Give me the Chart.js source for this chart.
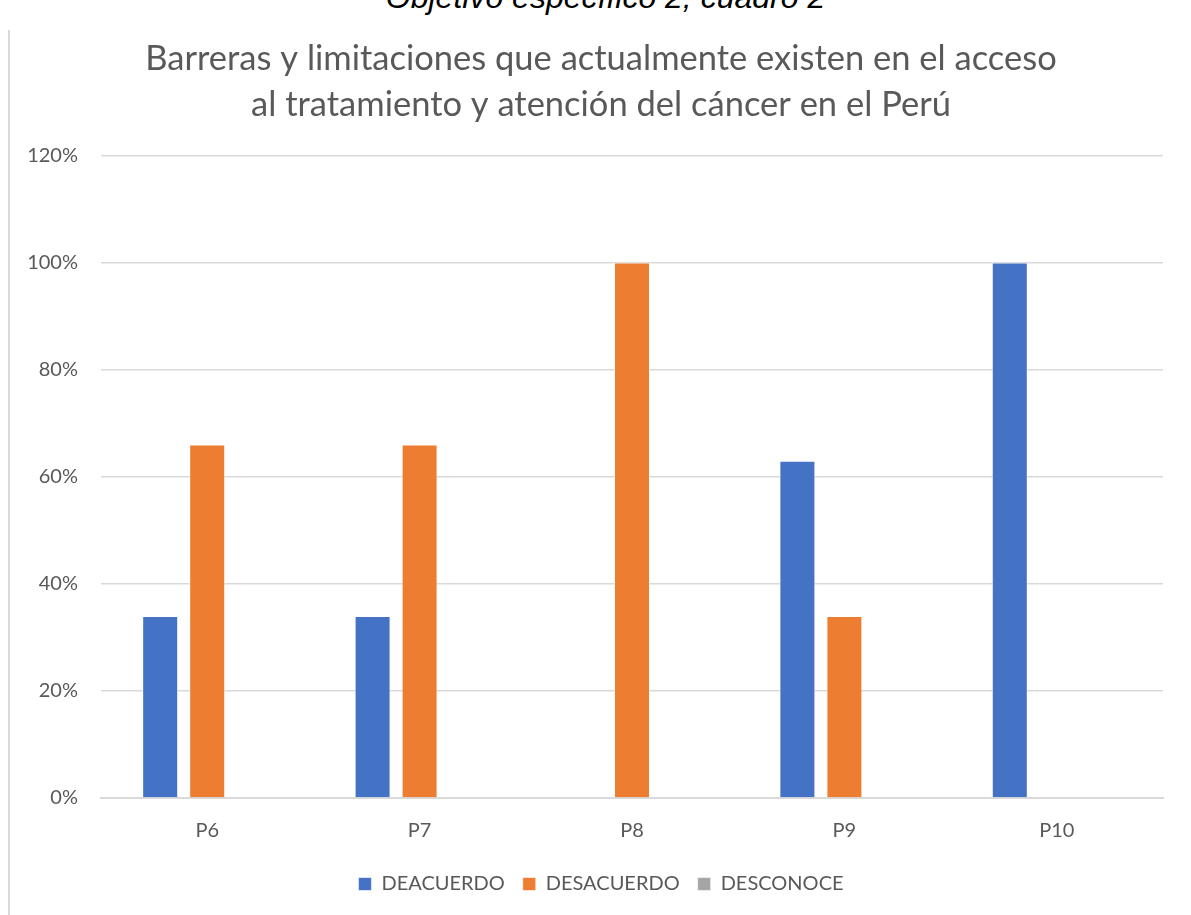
<!DOCTYPE html>
<html>
<head>
<meta charset="utf-8">
<script src="https://cdn.jsdelivr.net/npm/chart.js@4.4.1/dist/chart.umd.min.js"></script>
<style>
  html, body { margin: 0; padding: 0; background: #fff; overflow: hidden; }
  #wrap { position: relative; width: 1191px; height: 915px; }
  #topnote {
    position: absolute; left: 10px; width: 1191px; top: -21px; text-align: center;
    font-family: "Liberation Sans", Arial, sans-serif; font-style: italic;
    font-size: 32px; color: #000;
  }
  #frame {
    position: absolute; left: 8px; top: 30px; bottom: 0; width: 0;
    border-left: 2px solid #d9d9d9;
  }
  #chart { position: absolute; left: 0; top: 0; }
</style>
</head>
<body>
<div id="wrap">
  <div id="topnote">Objetivo específico 2, cuadro 2</div>
  <div id="frame"></div>
  <canvas id="chart" width="1191" height="915"></canvas>
</div>
<script>
// Datos del gráfico
const categorias = ['P6', 'P7', 'P8', 'P9', 'P10'];
const deAcuerdo = [34, 34, 0, 63, 100];
const desAcuerdo = [66, 66, 100, 34, 0];
const desconoce = [0, 0, 0, 0, 0];
const titulo = ['Barreras y limitaciones que actualmente existen en el acceso', 'al tratamiento y atención del cáncer en el Perú'];

document.addEventListener('DOMContentLoaded', () => {
    const fuente = 'Lato, "Open Sans", sans-serif';
    const gris = '#595959';
    const ctx = document.getElementById('chart').getContext('2d');

    const serie = (label, data, color) => ({
        label,
        data,
        backgroundColor: color,
        borderColor: 'rgba(255,255,255,0.6)',
        borderWidth: 1,
        categoryPercentage: 0.664,
        barPercentage: 0.766
    });

    // el eje Y es angosto para centrar el título; se quita el recorte de sus etiquetas
    const sinRecorteY = {
        id: 'sinRecorteY',
        afterLayout: (chart) => { chart.scales.y.left = 0; }
    };

    new Chart(ctx, {
        type: 'bar',
        data: {
            labels: categorias,
            datasets: [
                serie('DEACUERDO', deAcuerdo, '#4472c4'),
                serie('DESACUERDO', desAcuerdo, '#ed7d31'),
                serie('DESCONOCE', desconoce, '#a5a5a5')
            ]
        },
        options: {
            responsive: false,
            animation: false,
            layout: { padding: { left: 39, right: 28, top: 36, bottom: 11 } },
            plugins: {
                title: {
                    display: true,
                    text: titulo,
                    color: gris,
                    font: { family: fuente, size: 34.5, weight: 'normal', lineHeight: 1.34 },
                    padding: { top: 0, bottom: 27 }
                },
                legend: {
                    position: 'bottom',
                    labels: {
                        color: gris,
                        font: { family: fuente, size: 20 },
                        boxWidth: 13,
                        boxHeight: 13,
                        padding: 18
                    }
                },
                tooltip: { enabled: false }
            },
            scales: {
                x: {
                    grid: { display: false },
                    border: { color: '#d9d9d9', width: 2 },
                    ticks: { color: gris, font: { family: fuente, size: 20 }, padding: 13 }
                },
                y: {
                    min: 0,
                    max: 120,
                    grid: { color: '#d9d9d9', lineWidth: 1.5, drawTicks: false },
                    border: { display: false },
                    afterFit: (scale) => { scale.width = 62; },
                    ticks: {
                        stepSize: 20,
                        color: gris,
                        font: { family: fuente, size: 20 },
                        padding: 23,
                        callback: v => v + '%'
                    }
                }
            }
        },
        plugins: [sinRecorteY]
    });
});
</script>
</body>
</html>
